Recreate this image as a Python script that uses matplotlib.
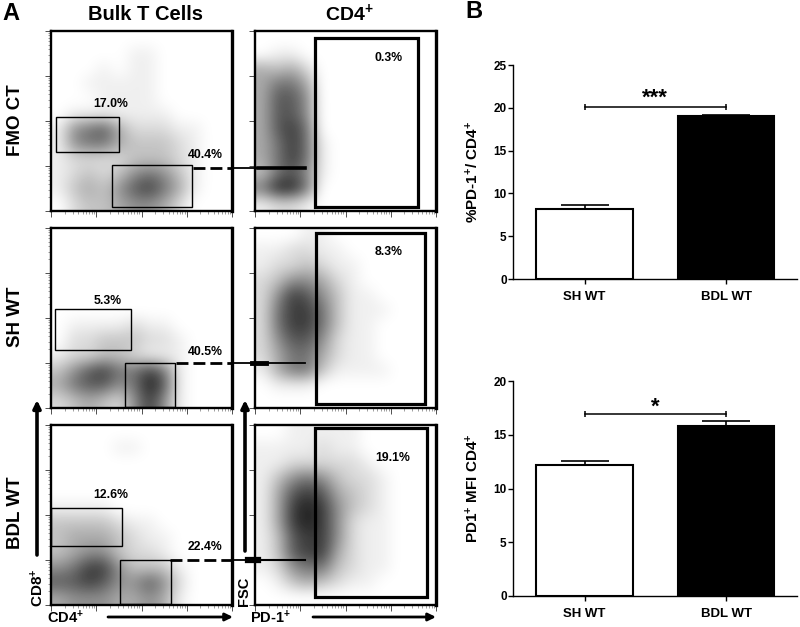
import numpy as np
import matplotlib
matplotlib.use('Agg')
import matplotlib.pyplot as plt
from matplotlib.colors import LinearSegmentedColormap, PowerNorm
from matplotlib.patches import Rectangle

plt.rcParams['font.family'] = ['Liberation Sans', 'DejaVu Sans']
plt.rcParams['font.weight'] = 'bold'
plt.rcParams['axes.labelweight'] = 'bold'
plt.rcParams['mathtext.default'] = 'regular'

# Dot density, 12 x 12 cells, top row first (0 empty, 9 darkest)
fmo_left = [
    [0,0,0,0,0,0,0,0,0,0,0,0],
    [0,0,0,0,0,1,1,0,0,0,0,0],
    [0,0,0,1,0,1,1,0,0,0,0,0],
    [0,0,1,1,1,1,1,0,0,0,0,0],
    [0,0,0,1,1,1,1,0,0,0,0,0],
    [0,1,1,1,1,1,1,1,0,0,0,0],
    [1,5,6,7,4,2,2,2,1,1,0,0],
    [1,5,6,6,4,3,3,3,2,1,0,0],
    [1,2,2,2,2,3,3,3,2,1,0,0],
    [1,2,3,2,3,5,6,5,3,1,0,0],
    [1,3,4,3,5,7,8,6,4,1,0,0],
    [0,2,3,3,4,5,5,4,2,0,0,0],
]
fmo_right = [
    [0,0,0,0,0,0,0,0,0,0,0,0],
    [0,1,1,0,0,0,0,0,0,0,0,0],
    [4,3,4,2,0,0,0,0,0,0,0,0],
    [4,6,6,4,0,0,0,0,0,0,0,0],
    [4,7,7,5,0,0,0,0,0,0,0,0],
    [4,7,7,5,0,0,0,0,0,0,0,0],
    [4,7,8,6,0,0,0,0,0,0,0,0],
    [4,6,8,6,1,0,0,0,0,0,0,0],
    [4,6,8,6,1,0,0,0,0,0,0,0],
    [3,6,7,5,1,0,0,0,0,0,0,0],
    [6,9,9,6,0,0,0,0,0,0,0,0],
    [1,2,2,1,0,0,0,0,0,0,0,0],
]
sh_left = [
    [0,0,0,0,0,0,0,0,0,0,0,0],
    [0,0,0,0,0,0,0,0,0,0,0,0],
    [0,0,0,0,0,0,0,0,0,0,0,0],
    [0,0,0,0,0,0,0,0,0,0,0,0],
    [0,0,0,0,0,0,0,0,0,0,0,0],
    [0,0,0,0,0,0,0,0,0,0,0,0],
    [0,1,1,1,1,2,1,1,0,0,0,0],
    [0,2,2,3,3,3,2,2,1,0,0,0],
    [1,2,2,3,3,2,1,1,1,0,0,0],
    [3,5,7,8,6,6,8,6,1,0,0,0],
    [4,6,7,7,5,6,9,7,1,0,0,0],
    [2,3,4,3,2,5,8,5,1,0,0,0],
]
sh_right = [
    [0,0,0,1,1,0,0,0,0,0,0,0],
    [1,1,2,2,1,1,0,0,0,0,0,0],
    [1,2,2,3,2,1,1,0,0,0,0,0],
    [2,3,5,5,4,2,1,0,0,0,0,0],
    [2,5,8,7,5,3,1,1,0,0,0,0],
    [2,6,8,8,6,3,1,1,1,0,0,0],
    [2,6,8,8,6,3,1,1,0,0,0,0],
    [2,5,7,7,5,2,1,1,0,0,0,0],
    [2,4,6,6,4,2,1,1,0,0,0,0],
    [1,4,6,6,3,1,1,1,1,0,0,0],
    [0,1,1,1,0,0,0,0,0,0,0,0],
    [0,0,0,0,0,0,0,0,0,0,0,0],
]
bdl_left = [
    [0,0,0,0,0,0,0,0,0,0,0,0],
    [0,0,0,0,1,1,0,0,0,0,0,0],
    [0,0,0,0,0,0,0,0,0,0,0,0],
    [0,0,0,0,0,0,0,0,0,0,0,0],
    [0,0,0,0,0,0,0,0,0,0,0,0],
    [1,1,1,1,0,0,0,0,0,0,0,0],
    [3,3,3,3,2,1,1,0,0,0,0,0],
    [3,4,4,4,3,2,1,1,0,0,0,0],
    [3,4,5,5,3,2,2,1,0,0,0,0],
    [5,6,8,8,5,3,3,3,1,0,0,0],
    [7,7,8,7,5,5,7,5,2,0,0,0],
    [4,5,5,5,4,4,5,4,1,0,0,0],
]
bdl_right = [
    [0,0,1,1,1,1,1,0,0,0,0,0],
    [1,1,1,1,2,1,1,0,0,0,0,0],
    [1,1,2,2,2,2,2,1,0,0,0,0],
    [1,3,5,6,5,3,2,2,1,0,0,0],
    [1,4,7,8,7,4,3,2,1,0,0,0],
    [1,4,8,9,8,5,3,2,1,0,0,0],
    [1,4,8,9,8,5,2,1,1,0,0,0],
    [1,3,7,8,8,5,2,1,1,0,0,0],
    [1,3,7,8,8,4,2,1,1,0,0,0],
    [1,2,5,6,6,3,2,1,1,0,0,0],
    [0,1,3,4,3,2,1,1,0,0,0,0],
    [0,0,0,0,0,0,0,0,0,0,0,0],
]

# Gates: x0, y0, x1, y1 in pixels
fmo_gates = [(56, 117, 119, 152), (112, 165, 192, 207)]
sh_gates = [(55, 309, 131, 350), (125, 363, 175, 407)]
bdl_gates = [(51, 508, 122, 546), (120, 560, 171, 604)]
fmo_pd1 = (315, 38, 418, 207)
sh_pd1 = (316, 233, 425, 404)
bdl_pd1 = (315, 428, 427, 597)

pct_left = [('17.0%', 111, 104), ('40.4%', 205, 155), ('5.3%', 108, 301),
            ('40.5%', 205, 352), ('12.6%', 111, 495), ('22.4%', 205, 547)]
pct_right = [('0.3%', 389, 58), ('8.3%', 389, 252), ('19.1%', 393, 458)]
row_tops = [31, 228, 425]
row_names = ['FMO CT', 'SH WT', 'BDL WT']
row_name_y = [120, 317, 513]
link_y = [168, 363, 560]
link_x0 = [193, 176, 170]
link_lw = [2.6, 1.3, 1.5]

# Bar values
groups = ['SH WT', 'BDL WT']
pct_pd1 = [8.2, 19.0]
pct_pd1_err = [0.5, 0.2]
mfi_pd1 = [12.2, 15.8]
mfi_pd1_err = [0.4, 0.5]

W, H = 800, 627
fig = plt.figure(figsize=(8, 6.27), dpi=100)
dots = LinearSegmentedColormap.from_list('dots', ['white', 'black'])


def ax_px(x0, y0, x1, y1, **kw):
    return fig.add_axes([x0 / W, 1 - y1 / H, (x1 - x0) / W, (y1 - y0) / H], **kw)


def flow_panel(x0, y0, grid, gates, lw, y_minor=True):
    ax = ax_px(x0, y0, x0 + 181, y0 + 180)
    ax.imshow(grid, cmap=dots, norm=PowerNorm(1.2, vmin=0, vmax=10),
              extent=(x0, x0 + 181, y0 + 180, y0), aspect='auto', interpolation='bicubic')
    for g in gates:
        ax.add_patch(Rectangle((g[0], g[1]), g[2] - g[0], g[3] - g[1], fill=False,
                               ec='black', lw=lw, clip_on=False))
    major = np.arange(5)
    minor = np.concatenate([k + np.log10(np.arange(2, 10)) for k in range(4)])
    ax.set_xticks(x0 + 45.25 * major)
    ax.set_xticks(x0 + 45.25 * minor, minor=True)
    ax.set_yticks(y0 + 180 - 45 * major)
    if y_minor:
        ax.set_yticks(y0 + 180 - 45 * minor, minor=True)
    ax.set_xlim(x0, x0 + 181)
    ax.set_ylim(y0 + 180, y0)
    ax.tick_params(which='major', length=4, width=0.6, color='#333333', labelleft=False, labelbottom=False)
    ax.tick_params(which='minor', length=2, width=0.4, color='#555555')
    for side in ax.spines:
        ax.spines[side].set_linewidth(1.7)
    ax.spines['right'].set_linewidth(2.4)
    return ax


lefts = [fmo_left, sh_left, bdl_left]
rights = [fmo_right, sh_right, bdl_right]
left_gates = [fmo_gates, sh_gates, bdl_gates]
right_gates = [fmo_pd1, sh_pd1, bdl_pd1]
for i in range(3):
    flow_panel(51, row_tops[i], lefts[i], left_gates[i], 1.0)
    flow_panel(255, row_tops[i], rights[i], [right_gates[i]], 2.3, y_minor=False)

# Overlay for connectors, arrows and the free text, in pixels
ov = fig.add_axes([0, 0, 1, 1], facecolor='none')
ov.set_xlim(0, W)
ov.set_ylim(H, 0)
ov.axis('off')

for i in range(3):
    ov.plot([link_x0[i], 232], [link_y[i], link_y[i]], color='black', lw=2, dashes=(4.3, 1.8))
    ov.plot([232, 258], [link_y[i], link_y[i]], color='black', lw=1.3)
    ov.plot([258, 305], [link_y[i], link_y[i]], color='black', lw=link_lw[i])
ov.plot([248, 258], [560, 560], color='black', lw=4.5)
ov.plot([252, 266], [363, 363], color='black', lw=3.5)


def arrow(x0, y0, x1, y1, lw):
    ov.annotate('', xy=(x1, y1), xytext=(x0, y0),
                arrowprops=dict(arrowstyle='-|>,head_width=0.22,head_length=0.45', color='black',
                                lw=lw, shrinkA=0, shrinkB=0))


arrow(37, 555, 37, 400, 2.6)
arrow(245, 551, 245, 400, 2.6)
arrow(108, 617, 233, 617, 2)
arrow(313, 617, 436, 617, 2)

for s, x, y in pct_left + pct_right:
    ov.text(x, y, s, ha='center', va='center', fontsize=8.8)
for name, y in zip(row_names, row_name_y):
    ov.text(15, y, name, rotation=90, ha='center', va='center', fontsize=13.5)

ov.text(145, 14, 'Bulk T Cells', ha='center', va='center', fontsize=14.5)
ov.text(349, 13, 'CD4$^{+}$', ha='center', va='center', fontsize=14)
ov.text(2, 13, 'A', ha='left', va='center', fontsize=17)
ov.text(465, 12, 'B', ha='left', va='center', fontsize=17)
ov.text(38, 588, 'CD8$^{+}$', rotation=90, ha='center', va='center', fontsize=11)
ov.text(244, 591, 'FSC', rotation=90, ha='center', va='center', fontsize=10.5)
ov.text(47, 618, 'CD4$^{+}$', ha='left', va='center', fontsize=10.5)
ov.text(250, 618, 'PD-1$^{+}$', ha='left', va='center', fontsize=10.5)


def bar_panel(box, vals, errs, ymax, step, ylabel, bracket_y, stars, star_y):
    ax = ax_px(*box)
    ax.bar([0, 1], vals, width=0.68, color=['white', 'black'], edgecolor='black', linewidth=1.5)
    for k in range(2):
        ax.errorbar(k, vals[k], yerr=[[0], [errs[k]]], color='black', capsize=17, capthick=1.2, elinewidth=1.2)
    ax.plot([0, 1], [bracket_y, bracket_y], color='black', lw=1.1, marker='|', ms=5, mew=1.1)
    ax.text(0.5, star_y, stars, ha='center', va='center', fontsize=16)
    ax.set_xlim(-0.505, 1.5)
    ax.set_ylim(0, ymax)
    ax.set_xticks([0, 1])
    ax.set_xticklabels(groups, fontsize=9.5)
    ax.set_yticks(np.arange(0, ymax + 1, step))
    ax.tick_params(axis='y', labelsize=8.5, length=3.5, width=1, pad=1)
    ax.tick_params(axis='x', length=3.5, width=1, pad=5)
    ax.spines['top'].set_visible(False)
    ax.spines['right'].set_visible(False)
    ax.spines['left'].set_linewidth(1)
    ax.spines['bottom'].set_linewidth(1)
    ax.set_ylabel(ylabel, fontsize=11, labelpad=9)
    ax.patch.set_alpha(0)
    return ax


bar_panel((513, 65, 797, 279), pct_pd1, pct_pd1_err, 25, 5, '%PD-1$^{+}$/ CD4$^{+}$', 20.1, '***', 21.1)
bar_panel((513, 381, 797, 596), mfi_pd1, mfi_pd1_err, 20, 5, 'PD1$^{+}$ MFI CD4$^{+}$', 16.9, '*', 17.6)

plt.savefig('out.png', dpi=100)
